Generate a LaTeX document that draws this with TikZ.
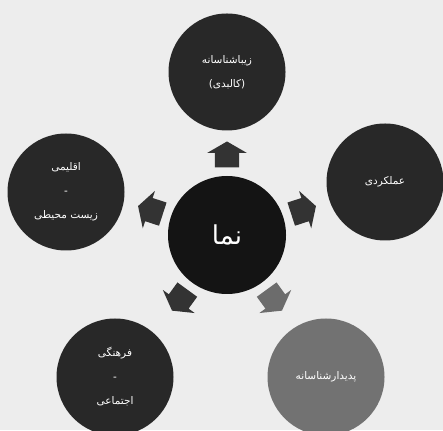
\documentclass[tikz,border=0pt]{standalone}
\usepackage{fontspec}
\newfontfamily\arabicfont[Script=Arabic]{DejaVu Sans}
\TeXXeTstate=1
\usetikzlibrary{shapes.arrows, calc}
\definecolor{paper}{HTML}{EDEDED}
\definecolor{hubfill}{HTML}{141414}
\definecolor{topicfill}{HTML}{282828}
\definecolor{palefill}{HTML}{727272}
\definecolor{flowfill}{HTML}{333333}
\definecolor{paleflow}{HTML}{6C6C6C}
\tikzset{
    hub/.style={circle, fill=hubfill, minimum size=118pt, inner sep=0pt, text=white,
        font=\arabicfont\fontsize{26}{30}\selectfont},
    topic/.style={circle, fill=topicfill, minimum size=117pt, inner sep=0pt, text=white,
        align=center, font=\arabicfont\fontsize{10.5}{24}\selectfont},
    flow/.style={single arrow, fill=flowfill, minimum height=26pt, inner xsep=0pt,
        inner ysep=12pt, single arrow head extend=7.5pt, single arrow tip angle=120}
}

\begin{document}
\begin{tikzpicture}[x=1pt, y=1pt]
    \fill[paper] (0,0) rectangle (443,430);
    \useasboundingbox (0,0) rectangle (443,430);
    % Centre
    \node[hub] (c) at (227,195) {\beginR نما\endR};
    % Aspects round the centre
    \node[topic] (top) at (227,358) {\beginR زیباشناسانه\endR\\\beginR (کالبدی)\endR};
    \node[topic] (left) at (66,238) {\beginR اقلیمی\endR\\-\\\beginR زیست محیطی\endR};
    \node[topic] (right) at (385,248) {\beginR عملکردی\endR};
    \node[topic] (botleft) at (115,53) {\beginR فرهنگی\endR\\-\\\beginR اجتماعی\endR};
    \node[topic, fill=palefill] (botright) at (326,53) {\beginR پدیدارشناسانه\endR};
    % Arrows out of the centre
    \node[flow, rotate=90] (a1) at ([shift={(90:77)}]c) {};
    \node[flow, rotate=162] (a2) at ([shift={(162:77)}]c) {};
    \node[flow, rotate=18] (a3) at ([shift={(18:77)}]c) {};
    \node[flow, rotate=234] (a4) at ([shift={(234:77)}]c) {};
    \node[flow, rotate=306, fill=paleflow] (a5) at ([shift={(306:77)}]c) {};
\end{tikzpicture}
\end{document}
